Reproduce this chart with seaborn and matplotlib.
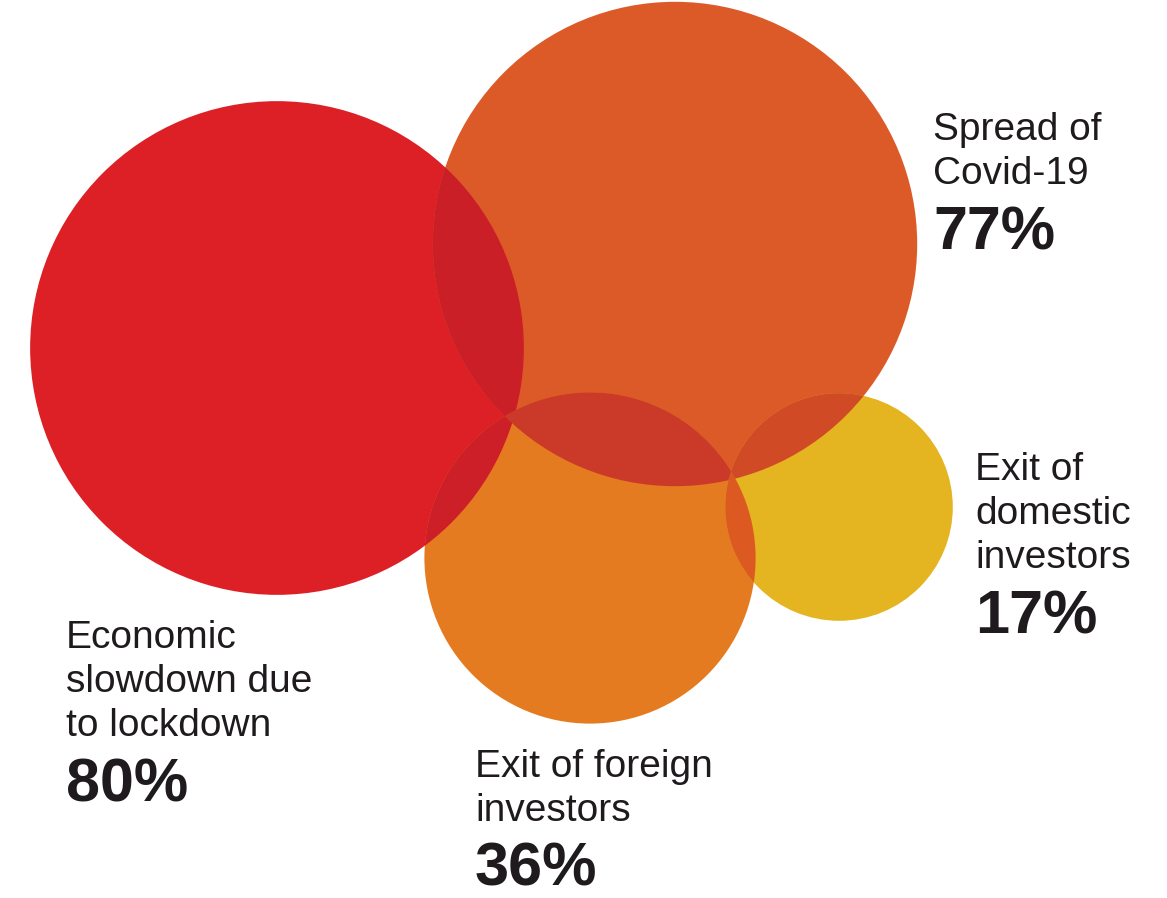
import numpy as np
import pandas as pd
import seaborn as sns
import matplotlib.pyplot as plt
from matplotlib.patches import Circle

# Survey: main concerns weighing on the market
categories = [
    "Economic slowdown due to lockdown",
    "Spread of Covid-19",
    "Exit of foreign investors",
    "Exit of domestic investors",
]
shares = [80, 77, 36, 17]
label_lines = [
    ["Economic", "slowdown due", "to lockdown"],
    ["Spread of", "Covid-19"],
    ["Exit of foreign", "investors"],
    ["Exit of", "domestic", "investors"],
]

# Styling
bubble_colors = ["#dd1f26", "#dc5a28", "#e57b21", "#e4b421"]
overlap_colors = {
    (0, 1): "#cb1f28",
    (0, 2): "#cc1f28",
    (1, 2): "#cb3a28",
    (1, 3): "#d04a26",
    (2, 3): "#dc5a22",
}
TEXT_COLOR = "#1e1a1d"

# Layout (axes units are pixels)
W, H = 1167, 898
center_x = [277, 675, 590, 839]
center_y = [348, 244, 558, 507]
label_x = [66, 933, 475, 975]
label_y = [648, 140, 777, 480]
LINE_STEP = 44
PCT_GAP = 65
PX_PER_SQRT = 27.6  # bubble radius in px per sqrt(percentage point)

sns.set_theme(style="white")
plt.rcParams["font.family"] = ["Liberation Sans", "DejaVu Sans"]

fig = plt.figure(figsize=(W / 100, H / 100), dpi=100)
ax = fig.add_axes([0, 0, 1, 1])

df = pd.DataFrame({"category": categories, "share": shares,
                   "x": center_x, "y": center_y})

# marker area (pt^2) of a bubble standing for 100%
full_area = (2 * PX_PER_SQRT * 10 * 72 / 100) ** 2
sns.scatterplot(
    data=df, x="x", y="y", hue="category",
    palette=dict(zip(categories, bubble_colors)),
    size="share", sizes=(0, full_area), size_norm=(0, 100),
    linewidth=0, alpha=1, legend=False, ax=ax,
)

ax.set_xlim(0, W)
ax.set_ylim(H, 0)
ax.set_aspect("equal")
ax.set_axis_off()

# Darker lens where two bubbles overlap
radii = [PX_PER_SQRT * np.sqrt(v) for v in shares]
for (a, b), col in overlap_colors.items():
    clip = Circle((center_x[a], center_y[a]), radii[a], transform=ax.transData)
    lens = Circle((center_x[b], center_y[b]), radii[b], facecolor=col,
                  edgecolor="none", zorder=2)
    ax.add_patch(lens)
    lens.set_clip_path(clip)

# Labels
for i, lines in enumerate(label_lines):
    y = label_y[i]
    for j, line in enumerate(lines):
        ax.text(label_x[i], y + j * LINE_STEP, line, fontsize=28,
                color=TEXT_COLOR, ha="left", va="baseline", zorder=3)
    last = y + (len(lines) - 1) * LINE_STEP
    ax.text(label_x[i], last + PCT_GAP, f"{shares[i]}%", fontsize=44,
            fontweight="bold", color=TEXT_COLOR, ha="left", va="baseline",
            zorder=3)

fig.savefig("out.png", dpi=100)
